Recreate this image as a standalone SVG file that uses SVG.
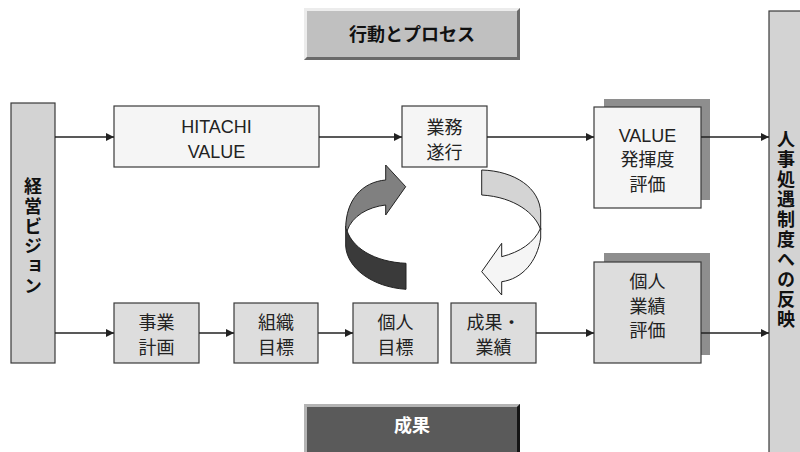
<svg xmlns="http://www.w3.org/2000/svg" width="800" height="452" viewBox="0 0 800 452">
<style>
.box{stroke:#3a3a3a;stroke-width:1.2}
.w{fill:#f5f5f5}
.g{fill:#dddddd}
.s{fill:#d3d3d3}
.sh{fill:#8e8e8e}
.t{font-family:"Liberation Sans","Noto Sans CJK JP",sans-serif;font-size:18px;fill:#222;text-anchor:middle}
.b{font-family:"Noto Sans CJK JP","Liberation Sans",sans-serif;font-weight:bold;font-size:18px;fill:#111;text-anchor:middle}
.v{writing-mode:vertical-rl;letter-spacing:2px}
.c{stroke:#222;stroke-width:1.3;fill:none;marker-end:url(#ah)}
.rib{stroke:#222;stroke-width:1}
</style>
<defs>
<marker id="ah" viewBox="0 0 10 10" refX="10" refY="5" markerWidth="10" markerHeight="8" markerUnits="userSpaceOnUse" orient="auto">
<path d="M0,0 L10,5 L0,10 Z" fill="#222"/>
</marker>
</defs>
<rect width="800" height="452" fill="#ffffff"/>

<g id="banner-process">
<rect x="304" y="8" width="216" height="52" fill="#c0c0c0"/>
<polygon points="304,8 520,8 517,11 307,11 307,57 304,60" fill="#ececec"/>
<polygon points="520,8 520,60 304,60 307,57 517,57 517,11" fill="#6a6a6a"/>
<text class="b" x="412" y="41">行動とプロセス</text>
</g>

<g id="banner-result">
<rect x="304" y="404" width="216" height="48" fill="#5a5a5a"/>
<polygon points="304,404 520,404 517,407 307,407 307,452 304,452" fill="#b4b4b4"/>
<polygon points="520,404 520,452 517,452 517,407" fill="#151515"/>
<text class="b" x="412" y="432" style="fill:#ffffff">成果</text>
</g>

<g id="vision">
<rect class="box s" x="11" y="103" width="44" height="260"/>
<text class="b v" x="33" y="237">経営ビジョン</text>
</g>

<g id="hr">
<rect class="box s" x="769" y="11" width="40" height="450"/>
<text class="b v" x="786" y="230">人事処遇制度への反映</text>
</g>

<g id="hitachi-value">
<rect class="box w" x="114" y="106" width="205" height="61"/>
<text class="t" x="216.5" y="133">HITACHI</text>
<text class="t" x="216.5" y="158">VALUE</text>
</g>

<g id="gyomu">
<rect class="box w" x="402" y="106" width="85" height="61"/>
<text class="t" x="444.5" y="134">業務</text>
<text class="t" x="444.5" y="159">遂行</text>
</g>

<g id="value-eval">
<rect class="sh" x="604" y="99" width="106" height="101"/>
<rect class="box w" x="594" y="107" width="107" height="101"/>
<text class="t" x="647.5" y="142">VALUE</text>
<text class="t" x="647.5" y="166">発揮度</text>
<text class="t" x="647.5" y="191">評価</text>
</g>

<g id="kojin-eval">
<rect class="sh" x="604" y="253" width="106" height="102"/>
<rect class="box g" x="594" y="262" width="107" height="101"/>
<text class="t" x="647.5" y="288">個人</text>
<text class="t" x="647.5" y="313">業績</text>
<text class="t" x="647.5" y="337">評価</text>
</g>

<g id="jigyo">
<rect class="box g" x="114" y="303" width="85" height="60"/>
<text class="t" x="156.5" y="329">事業</text>
<text class="t" x="156.5" y="354">計画</text>
</g>

<g id="soshiki">
<rect class="box g" x="234" y="303" width="84" height="60"/>
<text class="t" x="276" y="329">組織</text>
<text class="t" x="276" y="354">目標</text>
</g>

<g id="kojin">
<rect class="box g" x="353" y="303" width="85" height="60"/>
<text class="t" x="395.5" y="329">個人</text>
<text class="t" x="395.5" y="354">目標</text>
</g>

<g id="seika">
<rect class="box g" x="451" y="303" width="85" height="60"/>
<text class="t" x="493.5" y="329" style="font-family:'Noto Sans CJK JP',sans-serif">成果・</text>
<text class="t" x="493.5" y="354">業績</text>
</g>

<g id="cycle">
<path class="rib" fill="#3a3a3a" d="M345.7,226 C350,248 375,262 406,263.3 L406,289.3 C372,287 347,268 345.7,246 Z"/>
<path class="rib" fill="#808080" d="M345.7,228 C346,200 362,182 385.7,180 L385.7,165 L405.7,186.7 L385.7,215 L385.7,205 C368,207 352,216 347,231 Z"/>
<path class="rib" fill="#d4d4d4" d="M481.7,170 C515,171 540,188 540.7,213 L540.7,230 C536,214 515,197 481.7,195 Z"/>
<path class="rib" fill="#f5f5f5" d="M540.7,228 L540.7,238 C537,262 522,279 501.7,281.7 L501.7,295 L481.7,271.7 L501.7,243.3 L501.7,256.7 C520,252 534,243 540.7,228 Z"/>
</g>

<g id="connectors">
<line class="c" x1="55" y1="137" x2="114" y2="137"/>
<line class="c" x1="319" y1="137" x2="402" y2="137"/>
<line class="c" x1="487" y1="137" x2="594" y2="137"/>
<line class="c" x1="701" y1="137" x2="769" y2="137"/>
<line class="c" x1="55" y1="333" x2="114" y2="333"/>
<line class="c" x1="199" y1="333" x2="234" y2="333"/>
<line class="c" x1="318" y1="333" x2="353" y2="333"/>
<line class="c" x1="536" y1="333" x2="594" y2="333"/>
<line class="c" x1="701" y1="333" x2="769" y2="333"/>
</g>
</svg>
